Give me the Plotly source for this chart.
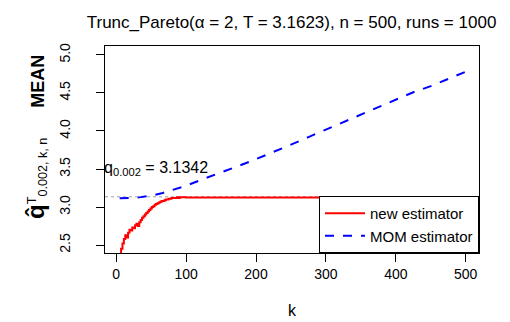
import plotly.graph_objects as go

# estimates
k_new = [5, 7, 9, 11, 13, 15, 17, 19, 21, 23, 25, 27, 29, 31, 33, 35, 37, 39, 41, 43,
         45, 47, 49, 51, 53, 55, 57, 59, 61, 63, 65, 67, 69, 71, 73, 75, 77, 79, 81, 83,
         85, 87, 89, 91, 95, 100, 500]
q_new = [2.38, 2.45, 2.52, 2.58, 2.63, 2.60, 2.66, 2.70, 2.69, 2.73, 2.72, 2.76, 2.78, 2.75,
         2.80, 2.83, 2.86, 2.88, 2.90, 2.92, 2.94, 2.96, 2.98, 3.00, 3.01, 3.03, 3.04, 3.05,
         3.06, 3.07, 3.08, 3.08, 3.09, 3.10, 3.10, 3.11, 3.11, 3.12, 3.12, 3.12, 3.12, 3.13,
         3.12, 3.13, 3.13, 3.125, 3.125]

k_mom = [5, 15, 25, 35, 50, 65, 80, 100, 125, 150, 175, 200, 225, 250, 275, 300, 325,
         350, 375, 400, 425, 450, 475, 500]
q_mom = [3.115, 3.115, 3.12, 3.13, 3.15, 3.18, 3.22, 3.28, 3.37, 3.45, 3.54, 3.63, 3.72,
         3.82, 3.92, 4.02, 4.12, 4.22, 4.32, 4.42, 4.51, 4.59, 4.69, 4.78]

q_true = 3.1342
x_ticks = [0, 100, 200, 300, 400, 500]
y_ticks = [2.5, 3.0, 3.5, 4.0, 4.5, 5.0]
y_ticktext = ["2.5", "3.0", "3.5", "4.0", "4.5", "5.0"]

font = "Liberation Sans, Arial"

fig = go.Figure()
fig.add_trace(go.Scatter(x=[-16, 519], y=[q_true, q_true], mode="lines", showlegend=False,
                         line=dict(color="#a0a0a0", width=1, dash="dot")))
fig.add_trace(go.Scatter(x=k_new, y=q_new, mode="lines", name="new estimator",
                         line=dict(color="red", width=2, shape="hv")))
fig.add_trace(go.Scatter(x=k_mom, y=q_mom, mode="lines", name="MOM estimator",
                         line=dict(color="blue", width=2, dash="dash")))

fig.add_annotation(x=0, xref="paper", y=q_true, yref="y", xanchor="left", yanchor="bottom",
                   text="q<sub>0.002</sub> = 3.1342", showarrow=False,
                   font=dict(size=16, color="black", family=font), xshift=-3, yshift=17)
fig.add_annotation(x=-0.185, xref="paper", y=0.56, yref="paper", textangle=-90,
                   xanchor="center", yanchor="middle",
                   text="<span style='font-size:24px'><b>q̂</b></span><sup>T</sup>"
                        "<sub>0.002, k, n</sub>      <b>MEAN</b>", showarrow=False,
                   font=dict(size=18, color="black", family=font))

fig.update_layout(
    width=510, height=322,
    margin=dict(l=97, r=39, t=38, b=77),
    plot_bgcolor="white", paper_bgcolor="white",
    font=dict(family=font, size=14, color="black"),
    title=dict(text="Trunc_Pareto(α = 2, T = 3.1623), n = 500, runs = 1000",
               x=0.556, xanchor="center", y=0.955, yanchor="middle",
               font=dict(size=17, family=font)),
    xaxis=dict(range=[-16, 519], tickvals=x_ticks, showgrid=False, zeroline=False,
               showline=True, linecolor="black", linewidth=1, mirror=True,
               ticks="outside", ticklen=8, tickcolor="black",
               title=dict(text="k", standoff=24, font=dict(size=16))),
    yaxis=dict(range=[2.395, 5.118], tickvals=y_ticks, ticktext=y_ticktext,
               showgrid=False, zeroline=False,
               showline=True, linecolor="black", linewidth=1, mirror=True,
               ticks="outside", ticklen=8, tickcolor="black", tickangle=-90,
               ticklabelstandoff=20),
    legend=dict(x=1, y=0, xanchor="right", yanchor="bottom", bgcolor="white",
                bordercolor="black", borderwidth=1, font=dict(size=15),
                itemwidth=40),
)

fig.write_html("out.html")
